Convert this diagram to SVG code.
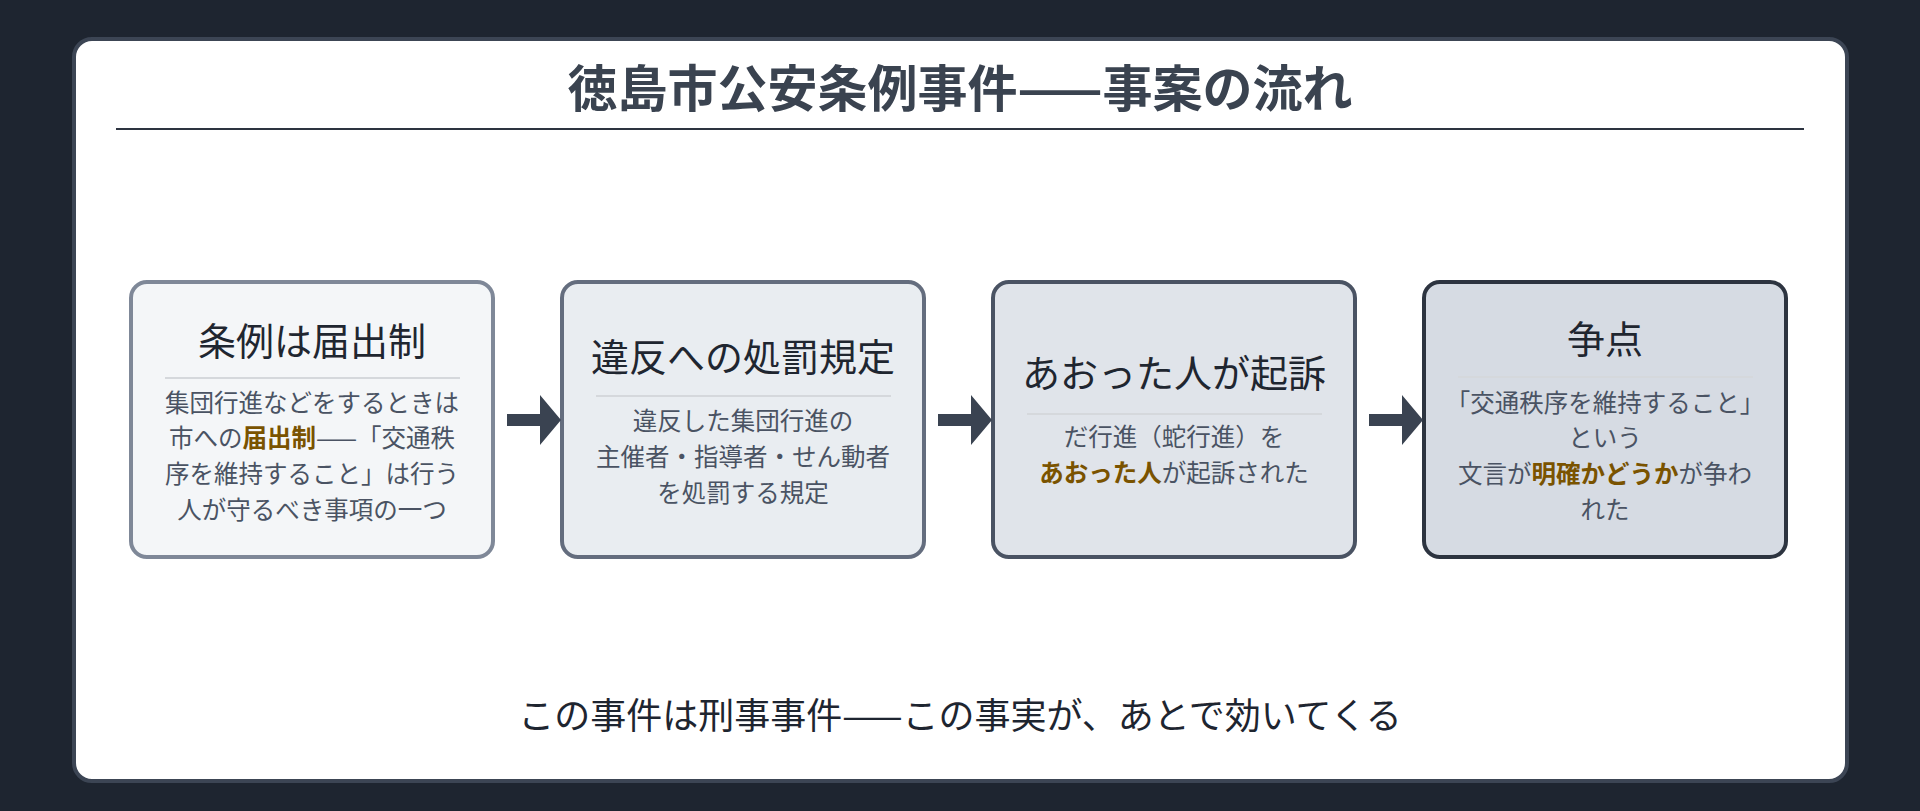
<svg xmlns="http://www.w3.org/2000/svg" width="1920" height="811" viewBox="0 0 1920 811">
<style>
text{font-family:"Noto Sans CJK JP","Noto Sans",sans-serif;text-anchor:middle}
.t{font-size:38px;fill:#1f2630}
.b{font-size:24.5px;fill:#4a5363}
.h{font-weight:bold;fill:#7a5300}
.box{stroke-width:4}
.div{stroke:#d5d8dc;stroke-width:2}
.ar{fill:#3a4351}
</style>
<rect width="1920" height="811" fill="#1e2530"/>
<rect x="74" y="39" width="1773" height="742" rx="18" fill="#ffffff" stroke="#3c4554" stroke-width="4"/>
<text x="960" y="107" style="font-size:50px;font-weight:bold;fill:#3a4350">徳島市公安条例事件——事案の流れ</text>
<line x1="116" y1="129" x2="1804" y2="129" stroke="#2d3440" stroke-width="2"/>
<g id="n1">
<rect class="box" x="131" y="282" width="362" height="275" rx="16" fill="#f4f6f8" stroke="#7f8898"/>
<text class="t" x="312" y="355">条例は届出制</text>
<line class="div" x1="165" y1="378" x2="460" y2="378"/>
<text class="b" x="312" y="412">集団行進などをするときは</text>
<text class="b" x="312" y="447">市への<tspan class="h">届出制</tspan>——「交通秩</text>
<text class="b" x="312" y="483">序を維持すること」は行う</text>
<text class="b" x="312" y="519">人が守るべき事項の一つ</text>
</g>
<g id="n2">
<rect class="box" x="562" y="282" width="362" height="275" rx="16" fill="#e9edf1" stroke="#646d7e"/>
<text class="t" x="743" y="371">違反への処罰規定</text>
<line class="div" x1="596" y1="396" x2="891" y2="396"/>
<text class="b" x="743" y="430">違反した集団行進の</text>
<text class="b" x="743" y="466">主催者・指導者・せん動者</text>
<text class="b" x="743" y="502">を処罰する規定</text>
</g>
<g id="n3">
<rect class="box" x="993" y="282" width="362" height="275" rx="16" fill="#e0e4ea" stroke="#4a5363"/>
<text class="t" x="1174" y="387">あおった人が起訴</text>
<line class="div" x1="1027" y1="414" x2="1322" y2="414"/>
<text class="b" x="1174" y="446">だ行進（蛇行進）を</text>
<text class="b" x="1174" y="482"><tspan class="h">あおった人</tspan>が起訴された</text>
</g>
<g id="n4">
<rect class="box" x="1424" y="282" width="362" height="275" rx="16" fill="#d6dbe3" stroke="#2d3440"/>
<text class="t" x="1605" y="353">争点</text>
<line class="div" x1="1458" y1="377" x2="1753" y2="377"/>
<text class="b" x="1605" y="412">「交通秩序を維持すること」</text>
<text class="b" x="1605" y="447">という</text>
<text class="b" x="1605" y="483">文言が<tspan class="h">明確かどうか</tspan>が争わ</text>
<text class="b" x="1605" y="519">れた</text>
</g>
<g id="connectors">
<path class="ar" d="M507 414h33v-19l21 25l-21 25v-19h-33z"/>
<path class="ar" d="M938 414h33v-19l21 25l-21 25v-19h-33z"/>
<path class="ar" d="M1369 414h33v-19l21 25l-21 25v-19h-33z"/>
</g>
<text x="960" y="729" style="font-size:36px;fill:#1e2530">この事件は刑事事件——この事実が、あとで効いてくる</text>
</svg>
